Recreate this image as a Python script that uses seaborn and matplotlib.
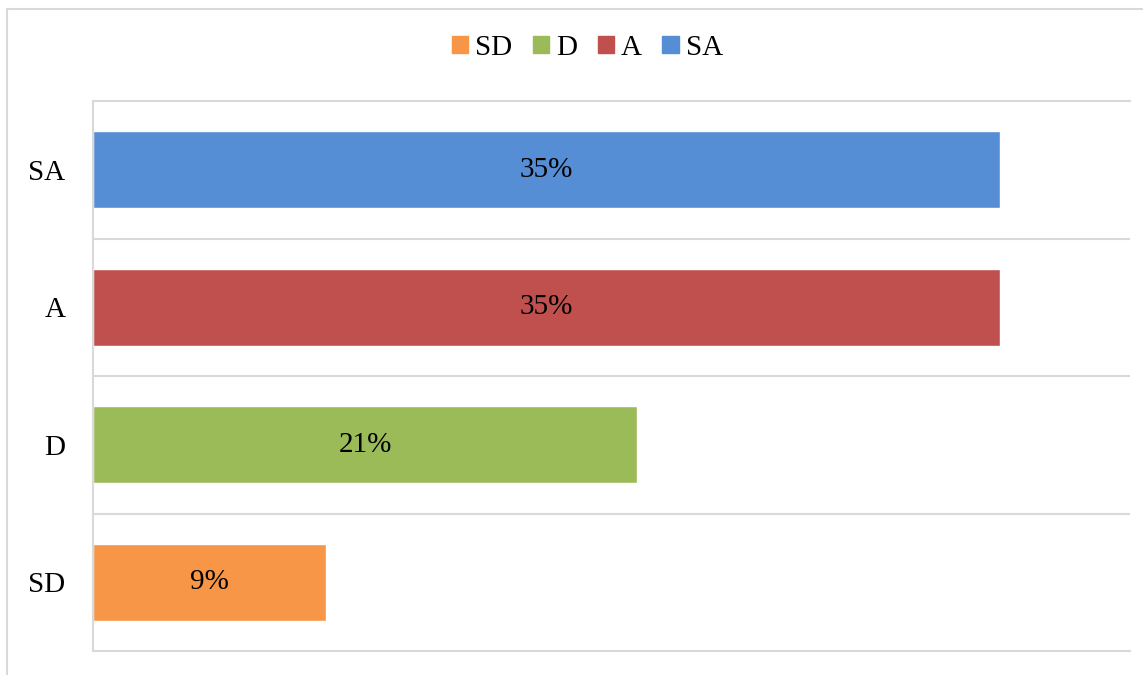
import matplotlib
matplotlib.use("Agg")
import matplotlib.pyplot as plt
import matplotlib.patches as mpatches
import pandas as pd
import seaborn as sns

sns.set_theme(style="white")
plt.rcParams['font.family'] = ['Liberation Serif', 'DejaVu Serif']
plt.rcParams['text.color'] = 'black'
plt.rcParams['ytick.color'] = 'black'

# data, top to bottom as drawn
categories = ["SA", "A", "D", "SD"]
shares = [0.35, 0.35, 0.21, 0.09]
colors = {"SD": "#F79646", "D": "#9BBB59", "A": "#C0504D", "SA": "#558ED5"}
legend_order = ["SD", "D", "A", "SA"]

df = pd.DataFrame({"cat": categories, "share": shares})
grid_col = "#D9D9D9"
fs = 21

fig = plt.figure(figsize=(11.43, 6.75), dpi=100)
ax = fig.add_axes([93 / 1143, 24 / 675, (1130 - 93) / 1143, (651 - 101) / 675])

sns.barplot(data=df, y="cat", x="share", hue="cat", order=categories,
            hue_order=categories, palette=colors, dodge=False, width=0.56,
            legend=False, ax=ax, saturation=1)

for cont in ax.containers:
    ax.bar_label(cont, fmt="{:.0%}", label_type="center", fontsize=fs, color="black")

ax.set_xlim(0, 0.40)
ax.set_ylim(len(categories) - 0.5, -0.5)
ax.set_xlabel("")
ax.set_ylabel("")
ax.set_xticks([])
ax.set_yticks(range(len(categories)))
ax.set_yticklabels(categories, fontsize=fs)
ax.tick_params(axis="y", length=0, pad=20, labelcolor="black")

ax.set_yticks([i + 0.5 for i in range(len(categories) - 1)], minor=True)
ax.tick_params(axis="y", which="minor", length=0)
ax.grid(which="minor", axis="y", color=grid_col, linewidth=1.5)

for side in ["top", "bottom", "left"]:
    ax.spines[side].set_color(grid_col)
    ax.spines[side].set_linewidth(1.5)
ax.spines["right"].set_visible(False)

handles = [mpatches.Patch(color=colors[c], label=c) for c in legend_order]
fig.legend(handles=handles, loc="center", bbox_to_anchor=(0.514, 0.929), ncol=4,
           frameon=False, fontsize=fs, handlelength=0.55, handleheight=0.55,
           handletextpad=0.25, columnspacing=0.7, labelcolor="black")

# chart outline (only top and left edges fall inside the picture)
fig.patches.append(mpatches.Rectangle((7 / 1143, -0.05), 1.2, 0.05 + (675 - 9) / 675,
                                      transform=fig.transFigure, fill=False,
                                      edgecolor=grid_col, linewidth=1.5))

fig.savefig("out.png", dpi=100)
